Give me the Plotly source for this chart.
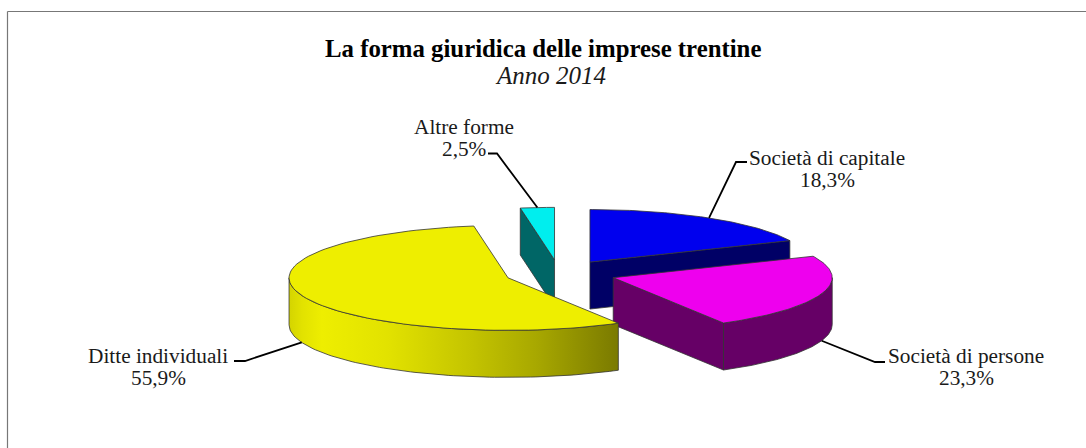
import numpy as np
import plotly.graph_objects as go

# ---- chart data ----
categories = ["Società di capitale", "Società di persone", "Ditte individuali", "Altre forme"]
values = [18.3, 23.3, 55.9, 2.5]
title_text = "La forma giuridica delle imprese trentine"
subtitle_text = "Anno 2014"

# ---- styles ----
top_colors = ["#0000EE", "#EE00EE", "#EEEE00", "#00EEEE"]
side_colors = ["#000066", "#660066", "#EEEE00", "#006666"]
yellow_gradient = [[0, "#d4d400"], [0.04, "#e2e200"], [0.1, "#eeee00"], [0.3, "#e2e200"],
                   [0.55, "#c4c400"], [0.75, "#a8a800"], [1, "#7a7a00"]]
edge = "#333333"
FONT = "Liberation Serif"

# ---- projection of the tilted pie (axes are in page pixels) ----
CX, CY = 559.0, 273.5
RX, RY = 219.0, 52.5
DEPTH = 47.0
explode = [0.26, 0.26, 0.247, 0.26]
draw_order = [0, 3, 1, 2]
leader_elbows = [(736, 162, 747), (875, 362, 885), (245, 361, 234), (497, 153.5, 488)]
label_pos = [(827, 158), (966, 356), (158, 356), (464, 127)]
LINE_GAP = 22

vals = np.array(values, dtype=float)
edges = np.concatenate([[0], np.cumsum(vals)]) / vals.sum() * 2 * np.pi
mids = (edges[:-1] + edges[1:]) / 2
apex = [(CX + e * RX * np.sin(m), CY - e * RY * np.cos(m)) for m, e in zip(mids, explode)]


def rim(i, t):
    t = np.asarray(t)
    return apex[i][0] + RX * np.sin(t), apex[i][1] - RY * np.cos(t)


def arc(i, a, b, n=90):
    return rim(i, np.linspace(a, b, n))


fig = go.Figure()


def poly(xs, ys, color, **kw):
    fig.add_trace(go.Scatter(x=list(xs), y=list(ys), mode="lines", fill="toself", fillcolor=color,
                             line=dict(color=edge, width=0.8), hoverinfo="skip", **kw))


def wall(i, t):
    ax, ay = apex[i]
    tx, ty = rim(i, t)
    poly([ax, tx, tx, ax, ax], [ay, ty, ty + DEPTH, ay + DEPTH, ay], side_colors[i])


for i in draw_order:
    a, b = edges[i], edges[i + 1]
    ax, ay = apex[i]
    # radial walls that face the viewer
    if np.sin(a) < -1e-6:
        wall(i, a)
    if np.sin(b) > 1e-6:
        wall(i, b)
    # outer wall: the part of the arc that lies on the front half
    lo, hi = max(a, np.pi / 2), min(b, 3 * np.pi / 2)
    if hi > lo:
        x, y = arc(i, lo, hi)
        xs = np.concatenate([x, x[::-1], x[:1]])
        ys = np.concatenate([y, y[::-1] + DEPTH, y[:1]])
        if i == 2:
            fig.add_trace(go.Scatter(x=xs, y=ys, mode="lines", fill="toself",
                                     fillgradient=dict(type="horizontal", colorscale=yellow_gradient),
                                     line=dict(color=edge, width=0.8), hoverinfo="skip"))
        else:
            poly(xs, ys, side_colors[i])
    # top face
    x, y = arc(i, a, b)
    poly(np.concatenate([[ax], x, [ax]]), np.concatenate([[ay], y, [ay]]), top_colors[i])

# leader lines and labels
annotations = []
for i, name in enumerate(categories):
    x0, y0 = rim(i, mids[i])
    if np.cos(mids[i]) < 0:
        y0 = y0 + DEPTH
    ex, ey, endx = leader_elbows[i]
    fig.add_trace(go.Scatter(x=[float(x0), ex, endx], y=[float(y0), ey, ey], mode="lines",
                             line=dict(color="#000000", width=1.8), hoverinfo="skip"))
    lx, ly = label_pos[i]
    pct = f"{values[i]:.1f}%".replace(".", ",")
    for k, line in enumerate([name, pct]):
        annotations.append(dict(x=lx, y=ly + k * LINE_GAP, xref="x", yref="y", text=line, showarrow=False,
                                align="center", xanchor="center", yanchor="middle",
                                font=dict(family=FONT, size=21.3, color="#1a1a1a")))

annotations.append(dict(x=543, y=48.5, xref="x", yref="y", text=f"<b>{title_text}</b>", showarrow=False,
                        xanchor="center", yanchor="middle", font=dict(family=FONT, size=24.8, color="#000000")))
annotations.append(dict(x=550.5, y=75.5, xref="x", yref="y", text=f"<i>{subtitle_text}</i>", showarrow=False,
                        xanchor="center", yanchor="middle", font=dict(family=FONT, size=25, color="#1a1a1a")))

fig.update_layout(
    width=1086, height=448, margin=dict(l=0, r=0, t=0, b=0), showlegend=False,
    paper_bgcolor="white", plot_bgcolor="white", annotations=annotations,
    xaxis=dict(range=[0, 1086], visible=False, fixedrange=True),
    yaxis=dict(range=[448, 0], visible=False, fixedrange=True),
    shapes=[
        dict(type="line", xref="x", yref="y", x0=7.5, x1=1086, y0=11.5, y1=11.5, line=dict(color="#777777", width=1.2)),
        dict(type="line", xref="x", yref="y", x0=7.5, x1=7.5, y0=11.5, y1=448, line=dict(color="#777777", width=1.2)),
    ],
)
fig.write_html("out.html", config=dict(displayModeBar=False),
               post_script='document.body.style.margin="0";document.body.style.overflow="hidden";')
